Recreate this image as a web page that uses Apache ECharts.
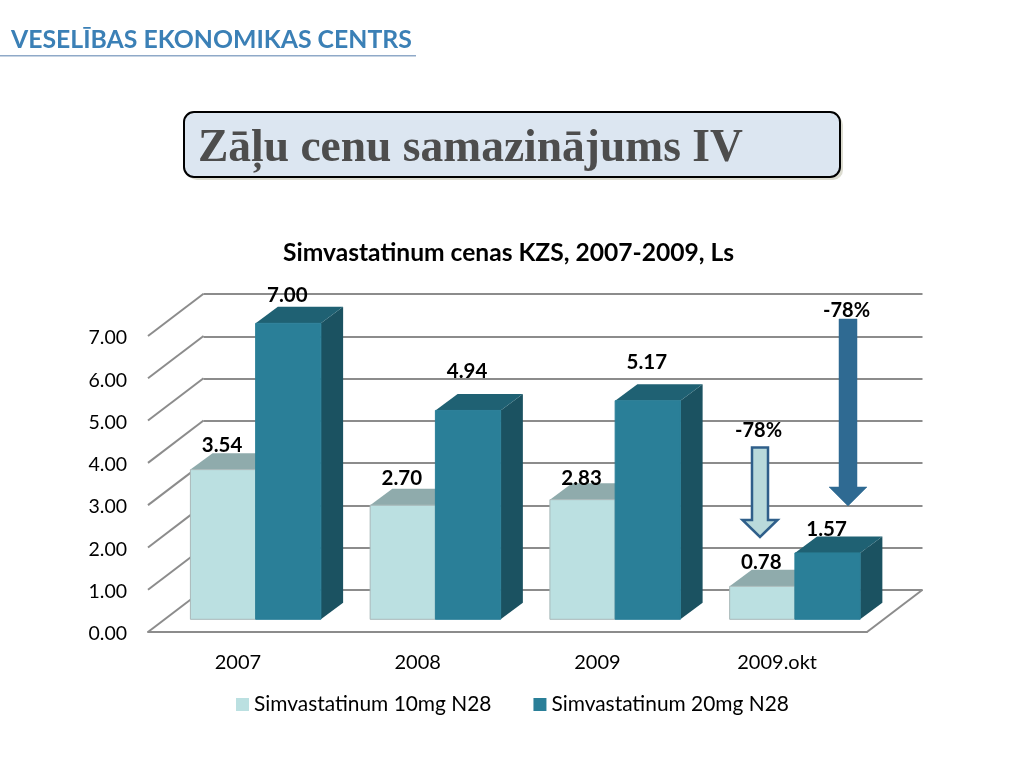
<!DOCTYPE html>
<html><head><meta charset="utf-8">
<style>html,body{margin:0;padding:0;background:#fff}#c{width:1024px;height:768px}</style>
<script src="https://cdn.jsdelivr.net/npm/echarts@6/dist/echarts.min.js"></script>
</head><body><div id="c"></div>
<script>
const categories = ['2007', '2008', '2009', '2009.okt'];
const dose10 = [3.54, 2.70, 2.83, 0.78];
const dose20 = [7.00, 4.94, 5.17, 1.57];
const yTicks = [0, 1, 2, 3, 4, 5, 6, 7];
const seriesNames = ['Simvastatinum 10mg N28', 'Simvastatinum 20mg N28'];
const chartTitle = 'Simvastatinum cenas KZS, 2007-2009, Ls';
const slideTitle = 'Zāļu cenu samazinājums IV';
const logoText = 'VESELĪBAS EKONOMIKAS CENTRS';
const arrowLabel = '-78%';
const FONT = 'Lato';

const nudge10 = [-24, -27, -21, -24];
const nudge20 = [-28, -39, -38, -24];

const light = {front: '#bbe0e1', top: '#8fabac', side: '#7f9c9d', edge: '#a9b8b9'};
const dark = {front: '#2a7f98', top: '#1f6173', side: '#1b5261', edge: '#2a7f98'};

function depth(api) {
  const size = api.size([1, 1]);
  return {band: size[0], dx: size[0] * 0.309, dy: size[1]};
}

function barRenderer(pal, shift, nudges) {
  return function (params, api) {
    const cat = api.value(0), val = api.value(1);
    const d = depth(api);
    const p0 = api.coord([cat, 0]), p1 = api.coord([cat, val]);
    const w = d.band * 0.363;
    const fx = 0.32 * d.dx, fy = 0.3 * d.dy;
    const bx = 0.4 * d.dx, by = 0.39 * d.dy;
    const x0 = p0[0] + fx + shift * w, x1 = x0 + w;
    const yb = p0[1] - fy, yt = p1[1] - fy;
    return {
      type: 'group',
      children: [
        {type: 'polygon', shape: {points: [[x1, yb], [x1 + bx, yb - by], [x1 + bx, yt - by], [x1, yt]]},
          style: {fill: pal.side}},
        {type: 'polygon', shape: {points: [[x0, yt], [x0 + bx, yt - by], [x1 + bx, yt - by], [x1, yt]]},
          style: {fill: pal.top}},
        {type: 'rect', shape: {x: x0, y: yt, width: w, height: yb - yt},
          style: {fill: pal.front, stroke: pal.edge, lineWidth: 1}},
        {type: 'text', z2: 50, style: {
          x: x0 + w / 2 - 1, y: yt + nudges[params.dataIndex], text: val.toFixed(2),
          fill: '#000', font: 'bold 20.5px ' + FONT, align: 'center', verticalAlign: 'middle'}}
      ]
    };
  };
}

function wallRenderer(params, api) {
  const v = api.value(0);
  const d = depth(api);
  const first = api.coord([0, v]);
  const x = first[0] - d.band / 2, y = first[1];
  const children = [{type: 'line', shape: {x1: x, y1: y, x2: x + d.dx, y2: y - d.dy},
    style: {stroke: '#8c8c8c', lineWidth: 2}}];
  if (v === 0) {
    const last = api.coord([categories.length - 1, 0]);
    const xr = last[0] + d.band / 2;
    children.push({type: 'line', shape: {x1: xr, y1: y, x2: xr + d.dx, y2: y - d.dy},
      style: {stroke: '#8c8c8c', lineWidth: 2}});
  }
  return {type: 'group', children};
}

function arrow(x, yTop, yHead, yTip, halfShaft, halfHead, fill, stroke, lw) {
  return {type: 'polygon', z: 20, shape: {points: [
    [x - halfShaft, yTop], [x + halfShaft, yTop], [x + halfShaft, yHead], [x + halfHead, yHead],
    [x, yTip], [x - halfHead, yHead], [x - halfShaft, yHead]]},
    style: {fill, stroke, lineWidth: lw}};
}

const option = {
  animation: false,
  backgroundColor: '#fff',
  title: {
    text: chartTitle, left: 278, top: 236,
    textStyle: {fontFamily: FONT, fontSize: 24.6, fontWeight: 'bold', color: '#000'}
  },
  legend: {
    left: 231, top: 689, itemWidth: 13, itemHeight: 13, itemGap: 42,
    icon: 'rect', data: seriesNames,
    textStyle: {fontFamily: FONT, fontSize: 20.9, color: '#000'}
  },
  grid: [
    {left: 148, top: 336, width: 719, height: 296},
    {left: 203.5, top: 294, width: 719, height: 296}
  ],
  xAxis: [
    {gridIndex: 0, type: 'category', data: categories,
      axisLine: {lineStyle: {color: '#8c8c8c', width: 2}}, axisTick: {show: false},
      axisLabel: {fontFamily: FONT, fontSize: 20, color: '#000', margin: 21}},
    {gridIndex: 1, type: 'value', min: 0, max: 1, show: false}
  ],
  yAxis: [
    {gridIndex: 0, type: 'value', min: 0, max: 7, interval: 1,
      axisLine: {show: false}, axisTick: {show: false}, splitLine: {show: false},
      axisLabel: {fontFamily: FONT, fontSize: 19.5, color: '#000', margin: 21,
        verticalAlign: 'top', lineHeight: 4, formatter: v => v.toFixed(2)}},
    {gridIndex: 1, type: 'value', min: 0, max: 7, interval: 1,
      axisLine: {show: false}, axisTick: {show: false}, axisLabel: {show: false},
      splitLine: {show: true, lineStyle: {color: '#8c8c8c', width: 2}}}
  ],
  series: [
    {type: 'custom', name: 'wall', xAxisIndex: 0, yAxisIndex: 0, z: 1, silent: true,
      data: yTicks.map(v => [v]), encode: {y: 0}, renderItem: wallRenderer},
    {type: 'custom', name: seriesNames[0], xAxisIndex: 0, yAxisIndex: 0, z: 3,
      itemStyle: {color: light.front},
      data: dose10.map((v, i) => [i, v]), encode: {x: 0, y: 1},
      renderItem: barRenderer(light, -1, nudge10)},
    {type: 'custom', name: seriesNames[1], xAxisIndex: 0, yAxisIndex: 0, z: 4,
      itemStyle: {color: dark.front},
      data: dose20.map((v, i) => [i, v]), encode: {x: 0, y: 1},
      renderItem: barRenderer(dark, 0, nudge20)}
  ],
  graphic: [
    {type: 'text', left: 11, top: 28, style: {text: logoText, fill: '#3b80b6',
      font: 'bold 24.8px ' + FONT}},
    {type: 'rect', shape: {x: 0, y: 55, width: 416, height: 1.5}, style: {fill: '#8fa9c8'}},
    {type: 'rect', z: 5, shape: {x: 187, y: 115, width: 656, height: 65, r: 10},
      style: {fill: '#dcdcd0'}},
    {type: 'rect', z: 6, shape: {x: 184, y: 112, width: 656, height: 65, r: 10},
      style: {fill: '#dce6f1', stroke: '#000', lineWidth: 2}},
    {type: 'text', z: 7, left: 198, top: 126, style: {text: slideTitle, fill: '#4d4d4d',
      font: 'bold 45.5px "Liberation Serif"'}},
    arrow(760, 447.5, 520, 537, 8, 17.5, '#b9dadb', '#2f5f8a', 2.5),
    arrow(848, 319, 487, 506, 9, 19, '#2f6a92', '#2f6a92', 0.5),
    {type: 'text', z: 21, left: 735, top: 421, style: {text: arrowLabel, fill: '#000',
      font: 'bold 20px ' + FONT}},
    {type: 'text', z: 21, left: 823, top: 301, style: {text: arrowLabel, fill: '#000',
      font: 'bold 20px ' + FONT}}
  ]
};
echarts.init(document.getElementById('c')).setOption(option);
</script></body></html>
